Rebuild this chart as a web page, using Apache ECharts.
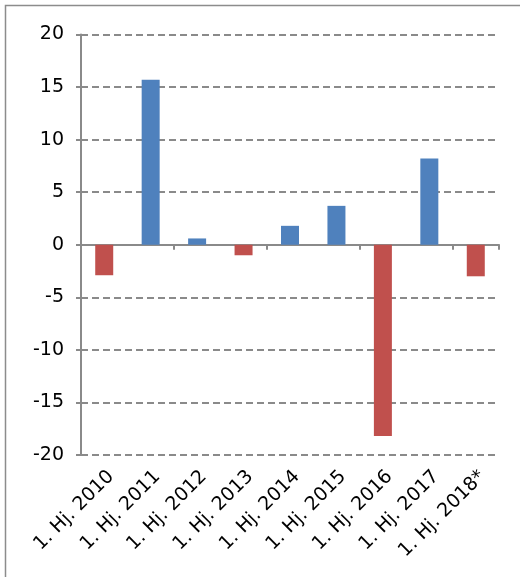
<!DOCTYPE html>
<html>
<head>
<meta charset="utf-8">
<script src="https://cdn.jsdelivr.net/npm/echarts@6/dist/echarts.min.js"></script>
<style>
html,body{margin:0;padding:0;background:#fff;}
#c{width:520px;height:577px;}
</style>
</head>
<body>
<div id="c"></div>
<script>
const categories = ['1. Hj. 2010','1. Hj. 2011','1. Hj. 2012','1. Hj. 2013','1. Hj. 2014','1. Hj. 2015','1. Hj. 2016','1. Hj. 2017','1. Hj. 2018*'];
const values = [-2.9, 15.7, 0.6, -1.0, 1.8, 3.7, -18.2, 8.2, -3.0];
const yMin = -20, yMax = 20, yStep = 5;

const FONT = '"DejaVu Sans", sans-serif';
const GREY = '#8a8a8a';
const chart = echarts.init(document.getElementById('c'), null, {renderer:'canvas'});
chart.setOption({
  animation:false,
  backgroundColor:'#fff',
  graphic:[{type:'rect', shape:{x:5.5,y:5.5,width:700,height:700}, style:{fill:'none', stroke:'#8c8c8c', lineWidth:1.5}, silent:true}],
  grid:{left:81, right:21, top:34.5, bottom:122, containLabel:false},
  xAxis:[{
    type:'category', data:categories, position:'bottom',
    axisLine:{show:false, onZero:false}, axisTick:{show:false},
    axisLabel:{rotate:45, align:'right', verticalAlign:'top', margin:12, interval:0,
      fontFamily:FONT, fontSize:19, color:'#000'}
  },{
    type:'category', data:categories, position:'top',
    axisLine:{show:true, onZero:true, lineStyle:{color:GREY, width:2}},
    axisTick:{show:true, inside:true, length:5, lineStyle:{color:GREY, width:2}},
    axisLabel:{show:false}
  }],
  yAxis:{
    type:'value', min:yMin, max:yMax, interval:yStep,
    axisLine:{show:true, lineStyle:{color:GREY, width:2}},
    axisTick:{show:true, length:5, lineStyle:{color:GREY, width:2}},
    axisLabel:{margin:17, fontFamily:FONT, fontSize:19, color:'#000'},
    splitLine:{show:true, lineStyle:{color:GREY, width:2, type:[7,4]}}
  },
  series:[{
    type:'bar', xAxisIndex:0, data:values, barWidth:18,
    itemStyle:{color:function(p){return p.value>=0?'#4F81BD':'#C0504D';}}
  }]
});
</script>
</body>
</html>
